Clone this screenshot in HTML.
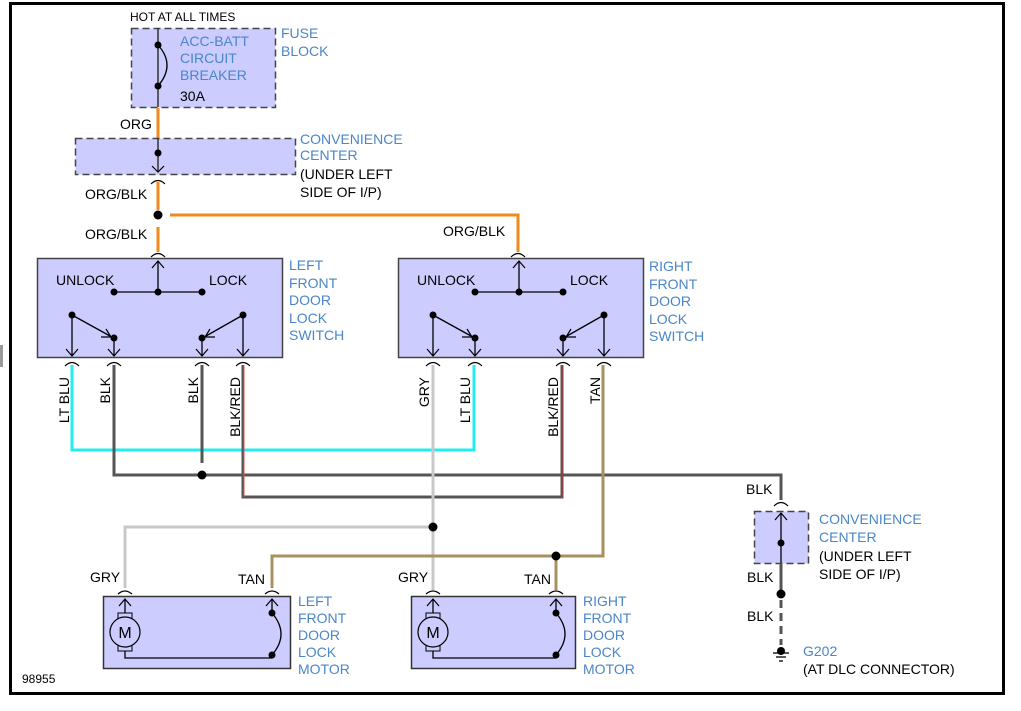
<!DOCTYPE html>
<html><head><meta charset="utf-8"><style>
html,body{margin:0;padding:0;background:#fff;}
svg{display:block;font-family:"Liberation Sans",sans-serif;font-size:14px;}
.b{fill:#4a86c8}
.k{fill:#000}
</style></head><body>
<svg width="1021" height="711" viewBox="0 0 1021 711" xmlns="http://www.w3.org/2000/svg">
<rect x="0" y="345" width="3" height="22" fill="#999"/>
<rect x="10.5" y="3.5" width="993" height="690" fill="none" stroke="#000" stroke-width="3"/>

<!-- Fuse block -->
<text x="130" y="21" font-size="12" class="k">HOT AT ALL TIMES</text>
<rect x="131.5" y="28.5" width="144" height="79" fill="#ccccff" stroke="#444" stroke-width="1.5" stroke-dasharray="7,4"/>
<line x1="158" y1="28" x2="158" y2="107" stroke="#333" stroke-width="1.5"/>
<path d="M158,45 Q176,65 158,86" fill="none" stroke="#000" stroke-width="1.3"/>
<circle cx="158" cy="45" r="3.5"/><circle cx="158" cy="86" r="3.5"/>
<text x="180" y="46" class="b">ACC-BATT</text>
<text x="180" y="63" class="b">CIRCUIT</text>
<text x="180" y="80" class="b">BREAKER</text>
<text x="180" y="101" class="k">30A</text>
<text x="281" y="38" class="b">FUSE</text>
<text x="281" y="56" class="b">BLOCK</text>

<line x1="158" y1="108" x2="158" y2="138" stroke="#f08a1c" stroke-width="3"/>
<text x="120" y="129" class="k">ORG</text>

<!-- Convenience center top -->
<rect x="75.5" y="138.5" width="220" height="36" fill="#ccccff" stroke="#444" stroke-width="1.5" stroke-dasharray="7,4"/>
<line x1="158" y1="138" x2="158" y2="172" stroke="#333" stroke-width="1.5"/>
<circle cx="158" cy="153" r="3.5"/>
<path d="M152,166 L158,172 L164,166" fill="none" stroke="#000" stroke-width="1.2"/>
<text x="300" y="144" class="b">CONVENIENCE</text>
<text x="300" y="160" class="b">CENTER</text>
<text x="300" y="179" class="k">(UNDER LEFT</text>
<text x="300" y="197" class="k">SIDE OF I/P)</text>
<path d="M151,184 Q158,177 165,184" fill="none" stroke="#000" stroke-width="1.2"/>
<line x1="158" y1="182" x2="158" y2="210" stroke="#f08a1c" stroke-width="3"/>
<text x="85" y="199" class="k">ORG/BLK</text>
<circle cx="158" cy="215" r="4.5"/>
<polyline points="170,215 518,215 518,252" fill="none" stroke="#f08a1c" stroke-width="3"/>
<line x1="158" y1="227" x2="158" y2="252" stroke="#f08a1c" stroke-width="3"/>
<text x="85" y="239" class="k">ORG/BLK</text>
<text x="443" y="236" class="k">ORG/BLK</text>
<path d="M151,257 Q158,250 165,257" fill="none" stroke="#000" stroke-width="1.2"/>
<path d="M511,257 Q518,250 525,257" fill="none" stroke="#000" stroke-width="1.2"/>

<!-- Left switch -->
<g id="sw">
<rect x="37.5" y="258.5" width="245" height="99" fill="#ccccff" stroke="#444" stroke-width="1.5"/>
<line x1="158" y1="292" x2="158" y2="261" stroke="#000" stroke-width="1.3"/>
<path d="M152,268 L158,261 L164,268" fill="none" stroke="#000" stroke-width="1.2"/>
<line x1="114" y1="292" x2="202" y2="292" stroke="#000" stroke-width="1.3"/>
<circle cx="114" cy="292" r="3.5"/><circle cx="158" cy="292" r="3.5"/><circle cx="202" cy="292" r="3.5"/>
<text x="56" y="285" class="k">UNLOCK</text>
<text x="209" y="285" class="k">LOCK</text>
<circle cx="72" cy="315" r="3.5"/><circle cx="114" cy="338" r="3.5"/><circle cx="202" cy="338" r="3.5"/><circle cx="243" cy="315" r="3.5"/>
<line x1="72" y1="315" x2="110" y2="336" stroke="#000" stroke-width="1.3"/>
<path d="M101,337 L111,337 L106,329" fill="none" stroke="#000" stroke-width="1.2"/>
<line x1="243" y1="315" x2="206" y2="336" stroke="#000" stroke-width="1.3"/>
<path d="M215,337 L205,337 L210,329" fill="none" stroke="#000" stroke-width="1.2"/>
<line x1="72" y1="315" x2="72" y2="356" stroke="#000" stroke-width="1.3"/>
<line x1="114" y1="338" x2="114" y2="356" stroke="#000" stroke-width="1.3"/>
<line x1="202" y1="338" x2="202" y2="356" stroke="#000" stroke-width="1.3"/>
<line x1="243" y1="315" x2="243" y2="356" stroke="#000" stroke-width="1.3"/>
<path d="M66,349 L72,356 L78,349 M108,349 L114,356 L120,349 M196,349 L202,356 L208,349 M237,349 L243,356 L249,349" fill="none" stroke="#000" stroke-width="1.2"/>
<path d="M65,366 Q72,359 79,366 M107,366 Q114,359 121,366 M195,366 Q202,359 209,366 M236,366 Q243,359 250,366" fill="none" stroke="#000" stroke-width="1.2"/>
</g>
<use href="#sw" x="361" y="0"/>
<text x="289" y="270" class="b">LEFT</text>
<text x="289" y="288" class="b">FRONT</text>
<text x="289" y="305" class="b">DOOR</text>
<text x="289" y="323" class="b">LOCK</text>
<text x="289" y="340" class="b">SWITCH</text>
<text x="649" y="271" class="b">RIGHT</text>
<text x="649" y="289" class="b">FRONT</text>
<text x="649" y="306" class="b">DOOR</text>
<text x="649" y="324" class="b">LOCK</text>
<text x="649" y="341" class="b">SWITCH</text>

<!-- wires -->
<polyline points="72,365 72,450 474,450 474,365" fill="none" stroke="#22eeee" stroke-width="3"/>
<polyline points="114,365 114,475 781,475 781,500" fill="none" stroke="#555" stroke-width="3"/>
<line x1="202" y1="365" x2="202" y2="463" stroke="#555" stroke-width="3"/>
<circle cx="202" cy="475" r="4.5"/>
<polyline points="243,365 243,497 562,497 562,365" fill="none" stroke="#555" stroke-width="3"/>
<line x1="244" y1="365" x2="244" y2="497" stroke="#e05050" stroke-width="1"/>
<line x1="563" y1="365" x2="563" y2="497" stroke="#c03030" stroke-width="1"/>
<polyline points="433,365 433,590" fill="none" stroke="#c8c8c8" stroke-width="3"/>
<polyline points="433,527 125,527 125,588" fill="none" stroke="#c8c8c8" stroke-width="3"/>
<circle cx="433" cy="527" r="4.5"/>
<polyline points="603,365 603,556 272,556 272,588" fill="none" stroke="#a89060" stroke-width="3"/>
<line x1="556" y1="556" x2="556" y2="590" stroke="#a89060" stroke-width="3"/>
<circle cx="556" cy="556" r="4.5"/>

<g font-size="14" class="k">
<text transform="translate(69,377) rotate(-90)" text-anchor="end">LT BLU</text>
<text transform="translate(110,377) rotate(-90)" text-anchor="end">BLK</text>
<text transform="translate(198,377) rotate(-90)" text-anchor="end">BLK</text>
<text transform="translate(240,377) rotate(-90)" text-anchor="end">BLK/RED</text>
<text transform="translate(429,377) rotate(-90)" text-anchor="end">GRY</text>
<text transform="translate(470,377) rotate(-90)" text-anchor="end">LT BLU</text>
<text transform="translate(558,377) rotate(-90)" text-anchor="end">BLK/RED</text>
<text transform="translate(600,377) rotate(-90)" text-anchor="end">TAN</text>
</g>

<!-- left motor -->
<path d="M118,594 Q125,588 132,594 M265,594 Q272,588 279,594" fill="none" stroke="#000" stroke-width="1.2"/>
<rect x="103.5" y="596.5" width="187" height="72" fill="#ccccff" stroke="#333" stroke-width="1.5"/>
<g id="mot">
<line x1="125" y1="599" x2="125" y2="614" stroke="#000" stroke-width="1.3"/>
<path d="M119,606 L125,599 L131,606" fill="none" stroke="#000" stroke-width="1.2"/>
<rect x="118" y="613" width="14" height="6" fill="#ccccff" stroke="#000" stroke-width="1"/>
<rect x="118" y="645" width="14" height="6" fill="#ccccff" stroke="#000" stroke-width="1"/>
<circle cx="125" cy="632" r="15" fill="#ccccff" stroke="#000" stroke-width="1.2"/>
<text x="125" y="638" text-anchor="middle" font-size="16" class="k">M</text>
</g>
<g id="msw">
<line x1="272" y1="599" x2="272" y2="613" stroke="#000" stroke-width="1.3"/>
<path d="M266,606 L272,599 L278,606" fill="none" stroke="#000" stroke-width="1.2"/>
<path d="M272,613 Q290,634 272,655" fill="none" stroke="#000" stroke-width="1.3"/>
<circle cx="272" cy="613" r="3.5"/><circle cx="272" cy="655" r="3.5"/>
</g>
<polyline points="125,651 125,658 272,658 272,655" fill="none" stroke="#000" stroke-width="1.3"/>

<!-- right motor -->
<path d="M426,594 Q433,588 440,594 M549,594 Q556,588 563,594" fill="none" stroke="#000" stroke-width="1.2"/>
<rect x="411.5" y="596.5" width="164" height="72" fill="#ccccff" stroke="#333" stroke-width="1.5"/>
<use href="#mot" x="308" y="0"/>
<use href="#msw" x="284" y="0"/>
<polyline points="433,651 433,658 556,658 556,655" fill="none" stroke="#000" stroke-width="1.3"/>

<text x="90" y="582" class="k">GRY</text>
<text x="238" y="584" class="k">TAN</text>
<text x="398" y="582" class="k">GRY</text>
<text x="524" y="584" class="k">TAN</text>
<text x="298" y="606" class="b">LEFT</text>
<text x="298" y="623" class="b">FRONT</text>
<text x="298" y="640" class="b">DOOR</text>
<text x="298" y="657" class="b">LOCK</text>
<text x="298" y="674" class="b">MOTOR</text>
<text x="583" y="606" class="b">RIGHT</text>
<text x="583" y="623" class="b">FRONT</text>
<text x="583" y="640" class="b">DOOR</text>
<text x="583" y="657" class="b">LOCK</text>
<text x="583" y="674" class="b">MOTOR</text>

<!-- right conv center & ground -->
<text x="746" y="494" class="k">BLK</text>
<path d="M774,506 Q781,499 788,506" fill="none" stroke="#000" stroke-width="1.2"/>
<rect x="754.5" y="511.5" width="54" height="52" fill="#ccccff" stroke="#444" stroke-width="1.5" stroke-dasharray="7,4"/>
<line x1="781" y1="513" x2="781" y2="563" stroke="#000" stroke-width="1.3"/>
<path d="M775,520 L781,513 L787,520" fill="none" stroke="#000" stroke-width="1.2"/>
<circle cx="781" cy="543" r="3.5"/>
<line x1="781" y1="563" x2="781" y2="590" stroke="#555" stroke-width="3"/>
<circle cx="781" cy="594" r="4.5"/>
<line x1="781" y1="600" x2="781" y2="645" stroke="#555" stroke-width="3" stroke-dasharray="8,5"/>
<circle cx="781" cy="651" r="4"/>
<line x1="773" y1="653" x2="789" y2="653" stroke="#000" stroke-width="1.3"/>
<line x1="776" y1="657" x2="786" y2="657" stroke="#000" stroke-width="1.3"/>
<line x1="779" y1="661" x2="783" y2="661" stroke="#000" stroke-width="1.3"/>
<text x="747" y="582" class="k">BLK</text>
<text x="747" y="621" class="k">BLK</text>
<text x="819" y="524" class="b">CONVENIENCE</text>
<text x="819" y="542" class="b">CENTER</text>
<text x="819" y="561" class="k">(UNDER LEFT</text>
<text x="819" y="579" class="k">SIDE OF I/P)</text>
<text x="803" y="656" class="b">G202</text>
<text x="803" y="674" class="k">(AT DLC CONNECTOR)</text>
<text x="22" y="683" font-size="12" class="k">98955</text>
</svg>
</body></html>
